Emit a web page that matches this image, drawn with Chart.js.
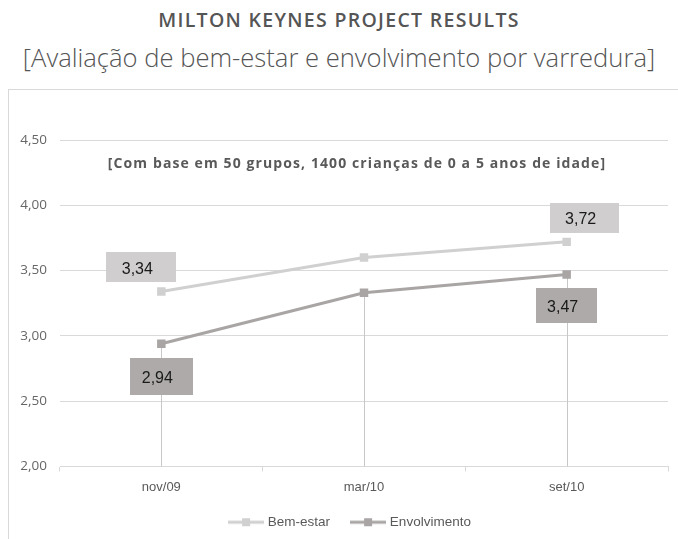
<!DOCTYPE html>
<html>
<head>
<meta charset="utf-8">
<script src="https://cdn.jsdelivr.net/npm/chart.js@4.4.1/dist/chart.umd.min.js"></script>
<style>
  html, body { margin: 0; padding: 0; background: #fff; overflow: hidden; }
  body { width: 678px; height: 539px; position: relative; }
  #title { position: absolute; left: 0; width: 678px; top: 7px; text-align: center;
    font-family: "Open Sans", sans-serif; font-weight: 600; font-size: 19.5px; letter-spacing: 1.3px; color: #555; line-height: 26px; white-space: nowrap; }
  #subtitle { position: absolute; left: 0; width: 678px; top: 41px; text-align: center;
    font-family: "Open Sans", sans-serif; font-weight: 300; font-size: 25.6px; color: #555; line-height: 34px; white-space: nowrap; }
  #frame { position: absolute; left: 8px; top: 89px; width: 700px; height: 500px; border: 1.5px solid #d9d9d9; box-sizing: border-box; }
  #wrap { position: absolute; left: 0; top: 0; width: 678px; height: 570px; }
</style>
</head>
<body>
<div id="title">MILTON KEYNES PROJECT RESULTS</div>
<div id="subtitle">[Avaliação de bem-estar e envolvimento por varredura]</div>
<div id="frame"></div>
<div id="wrap"><canvas id="c"></canvas></div>
<script>
// ---- data ----
const categories = ["nov/09", "mar/10", "set/10"];
const bemEstar = [3.34, 3.60, 3.72];
const envolvimento = [2.94, 3.33, 3.47];
const seriesNames = ["Bem-estar", "Envolvimento"];
const yTicks = [2.00, 2.50, 3.00, 3.50, 4.00, 4.50];
const labelledPoints = [[0, 2], [0, 2]]; // indexes carrying a value label, per series
const noteText = "[Com base em 50 grupos, 1400 crianças de 0 a 5 anos de idade]";

// ---- styles ----
const lineColors = ["#d0d0d0", "#a9a5a5"];
const boxColors = ["#d0cece", "#aeaaaa"];
// label box geometry relative to the point (dx, dy of box centre, width, height), per series per labelled point
const labelGeom = [
  [[-20, -24, 70, 30], [18, -24, 69, 30]],
  [[0, 33, 63, 37], [0, 31, 61, 35]]
];

const fmt = v => v.toFixed(2).replace('.', ',');

function legendIcon(color) {
  const c = document.createElement('canvas');
  c.width = 36; c.height = 10;
  const g = c.getContext('2d');
  g.strokeStyle = color; g.lineWidth = 3;
  g.beginPath(); g.moveTo(0, 5); g.lineTo(36, 5); g.stroke();
  g.fillStyle = color; g.fillRect(14, 1, 8, 8);
  return c;
}
const icons = lineColors.map(legendIcon);

const legendShift = {
  id: 'legendShift',
  afterLayout(chart) {
    if (chart.legend) { chart.legend.left = 34; }
  }
};

const dropLines = {
  id: 'dropLines',
  beforeDatasetsDraw(chart) {
    const { ctx, chartArea } = chart;
    ctx.save();
    ctx.strokeStyle = '#c8c8c8';
    ctx.lineWidth = 1;
    categories.forEach((_, i) => {
      let maxY = -Infinity, x = 0;
      chart.data.datasets.forEach((ds, d) => {
        const el = chart.getDatasetMeta(d).data[i];
        if (el.y > maxY) { maxY = el.y; x = el.x; }
      });
      const xx = Math.round(x) + 0.5;
      ctx.beginPath(); ctx.moveTo(xx, maxY); ctx.lineTo(xx, chartArea.bottom); ctx.stroke();
    });
    ctx.restore();
  }
};

const valueLabels = {
  id: 'valueLabels',
  afterDatasetsDraw(chart) {
    const { ctx } = chart;
    ctx.save();
    chart.data.datasets.forEach((ds, d) => {
      const meta = chart.getDatasetMeta(d);
      labelledPoints[d].forEach((idx, k) => {
        const el = meta.data[idx];
        const [dx, dy, w, h] = labelGeom[d][k];
        const cx = el.x + dx, cy = el.y + dy;
        ctx.fillStyle = boxColors[d];
        ctx.fillRect(Math.round(cx - w / 2), Math.round(cy - h / 2), w, h);
        ctx.fillStyle = '#1a1a1a';
        ctx.font = '16px "Liberation Sans", Arial, sans-serif';
        ctx.textAlign = 'center';
        ctx.textBaseline = 'middle';
        ctx.fillText(fmt(ds.data[idx]), cx - 4, cy + 2);
      });
    });
    ctx.restore();
  }
};

const note = {
  id: 'note',
  beforeDatasetsDraw(chart) {
    const { ctx, chartArea } = chart;
    ctx.save();
    ctx.font = 'bold 14px "Open Sans", sans-serif';
    ctx.letterSpacing = '1.1px';
    ctx.fillStyle = '#595959';
    ctx.textAlign = 'center';
    ctx.textBaseline = 'middle';
    ctx.fillText(noteText, chartArea.left + 297, chartArea.top + 24);
    ctx.restore();
  }
};

new Chart(document.getElementById('c'), {
  type: 'line',
  data: {
    labels: categories,
    datasets: [
      { label: seriesNames[0], data: bemEstar, borderColor: lineColors[0], backgroundColor: lineColors[0],
        borderWidth: 3, pointStyle: 'rect', pointRadius: 6, pointHoverRadius: 6, pointBorderWidth: 0, tension: 0 },
      { label: seriesNames[1], data: envolvimento, borderColor: lineColors[1], backgroundColor: lineColors[1],
        borderWidth: 3, pointStyle: 'rect', pointRadius: 6, pointHoverRadius: 6, pointBorderWidth: 0, tension: 0 }
    ]
  },
  options: {
    responsive: true,
    maintainAspectRatio: false,
    animation: false,
    events: [],
    layout: { padding: { top: 140, left: 0, right: 10, bottom: 31 } },
    scales: {
      x: {
        offset: true,
        grid: { offset: true, drawOnChartArea: false, drawTicks: true, tickLength: 5, color: '#d9d9d9' },
        border: { color: '#d9d9d9', width: 1 },
        ticks: { color: '#595959', font: { family: '"Liberation Sans", Arial, sans-serif', size: 13 }, padding: 8 },
        afterFit(scale) { scale.height = 26; }
      },
      y: {
        min: yTicks[0],
        max: yTicks[yTicks.length - 1],
        afterBuildTicks(scale) { scale.ticks = yTicks.map(v => ({ value: v })); },
        grid: { color: '#d9d9d9', drawTicks: false },
        border: { display: false },
        ticks: { color: '#666', font: { family: '"Open Sans", sans-serif', size: 13.5 }, padding: 13,
          callback: v => fmt(v) },
        afterFit(scale) { scale.width = 60; }
      }
    },
    plugins: {
      title: { display: false },
      tooltip: { enabled: false },
      legend: {
        position: 'bottom',
        labels: {
          usePointStyle: true,
          pointStyleWidth: 30,
          padding: 23,
          color: '#595959',
          font: { family: '"Liberation Sans", Arial, sans-serif', size: 13.5 },
          generateLabels(chart) {
            return chart.data.datasets.map((ds, i) => ({
              text: ds.label, pointStyle: icons[i], fillStyle: lineColors[i], strokeStyle: lineColors[i],
              lineWidth: 0, hidden: false, datasetIndex: i, fontColor: '#595959'
            }));
          }
        }
      }
    }
  },
  plugins: [legendShift, dropLines, valueLabels, note]
});
</script>
</body>
</html>
